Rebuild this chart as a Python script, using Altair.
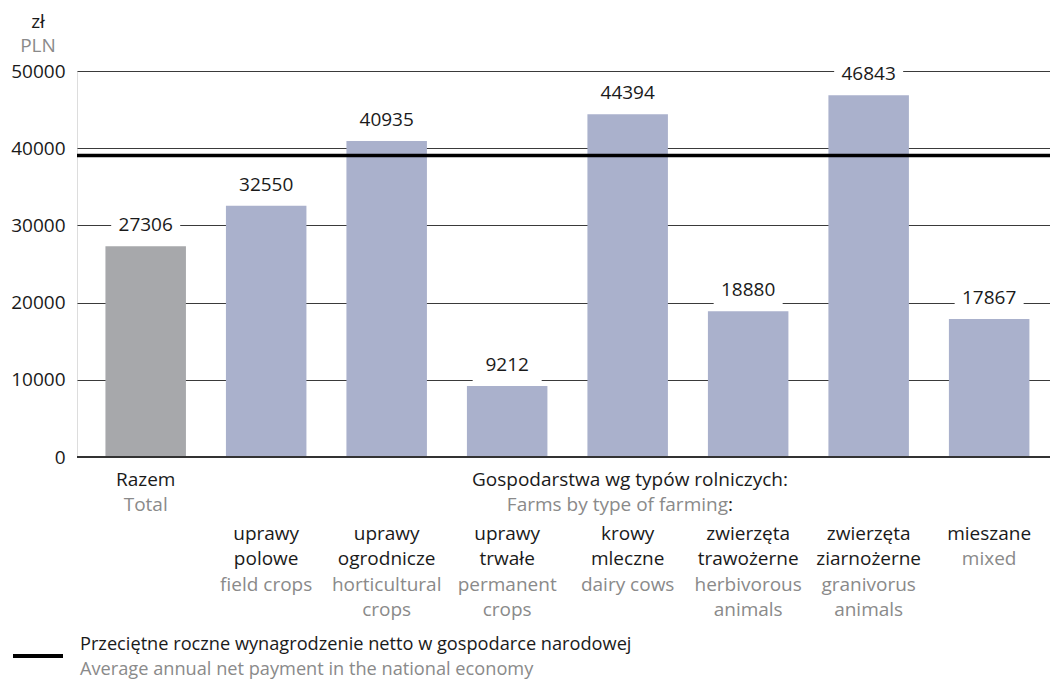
import altair as alt
import pandas as pd

# ---------------- data ----------------
categories = ["razem", "polowe", "ogrodnicze", "trwale", "krowy",
              "trawozerne", "ziarnozerne", "mieszane"]
values = [27306, 32550, 40935, 9212, 44394, 18880, 46843, 17867]
bar_colors = ["#a7a8ab", "#aab1cc", "#aab1cc", "#aab1cc", "#aab1cc",
              "#aab1cc", "#aab1cc", "#aab1cc"]
labels_pl = [["Razem"], ["uprawy", "polowe"], ["uprawy", "ogrodnicze"],
             ["uprawy", "trwałe"], ["krowy", "mleczne"],
             ["zwierzęta", "trawożerne"], ["zwierzęta", "ziarnożerne"],
             ["mieszane"]]
labels_en = [["Total"], ["field crops"], ["horticultural", "crops"],
             ["permanent", "crops"], ["dairy cows"],
             ["herbivorous", "animals"], ["granivorus", "animals"],
             ["mixed"]]
national_avg = [39040]
y_ticks = [0, 10000, 20000, 30000, 40000, 50000]

unit_pl, unit_en = "zł", "PLN"
group_pl = "Gospodarstwa wg typów rolniczych:"
group_en = "Farms by type of farming"
legend_pl = "Przeciętne roczne wynagrodzenie netto w gospodarce narodowej"
legend_en = "Average annual net payment in the national economy"

# ---------------- tables ----------------
df = pd.DataFrame({"cat": categories, "value": values, "color": bar_colors})

BLACK, GRAY = "#1a1a1a", "#8a8a8a"
rows = []
for i, c in enumerate(categories):
    start = 0 if i == 0 else 2
    k = 0
    for t in labels_pl[i]:
        rows.append({"cat": c, "text": t, "row": start + k, "color": BLACK})
        k += 1
    for t in labels_en[i]:
        rows.append({"cat": c, "text": t, "row": start + k, "color": GRAY})
        k += 1
lines_df = pd.DataFrame(rows)

FONT = "Open Sans"
FS = 19
W, H = 973, 386

X = alt.X("cat:N", sort=categories, axis=None,
          scale=alt.Scale(domain=categories, paddingInner=0.332,
                          paddingOuter=0.2035, align=0.58))
Y = alt.Y("value:Q",
          scale=alt.Scale(domain=[0, 50000], nice=False),
          axis=alt.Axis(values=y_ticks, title=None, domain=False, ticks=False,
                        labelPadding=12, labelFontSize=FS, labelFont=FONT,
                        labelColor=BLACK, gridColor="#3a3a3a", gridWidth=1,
                        format="d"))

base = alt.Chart(df)

boxes = base.mark_bar(color="white", width=69, yOffset=-38).encode(
    x=X, y=Y, y2=alt.Y2("value:Q"))
bars = base.mark_bar(width=80.5).encode(
    x=X, y=Y, color=alt.Color("color:N", scale=None))
vals = base.mark_text(dy=-21, fontSize=FS, font=FONT, color=BLACK,
                      baseline="middle").encode(
    x=X, y=Y, text=alt.Text("value:Q", format="d"))

avg_rule = alt.Chart(pd.DataFrame({"value": national_avg})).mark_rule(
    color="black", strokeWidth=3.5).encode(y=alt.Y("value:Q"))
zero_rule = alt.Chart(pd.DataFrame({"value": [0]})).mark_rule(
    color="#333333", strokeWidth=2).encode(y=alt.Y("value:Q"))

row_y = [409, 434, 463, 488, 514, 539]
cat_layers = []
for r, yy in enumerate(row_y):
    cat_layers.append(
        alt.Chart(lines_df).transform_filter(alt.datum.row == r)
        .mark_text(font=FONT, fontSize=FS, baseline="middle", align="center")
        .encode(x=X, y=alt.value(yy), text="text:N",
                color=alt.Color("color:N", scale=None)))


def label(txt, x, y, color, align="center", size=FS):
    return alt.Chart(pd.DataFrame({"t": [txt]})).mark_text(
        font=FONT, fontSize=size, baseline="middle", align=align,
        color=color).encode(x=alt.value(x), y=alt.value(y), text="t:N")


annotations = [
    label(unit_pl, -39, -49, BLACK),
    label(unit_en, -39, -25, GRAY),
    label(group_pl, 553, 409, BLACK),
    label(group_en, 651, 434, GRAY, align="right"),
    label(":", 651, 434, BLACK, align="left"),
    label(legend_pl, 3, 574, BLACK, align="left", size=18.2),
    label(legend_en, 3, 599, GRAY, align="left", size=18.2),
]

legend_line = alt.Chart(pd.DataFrame({"v": national_avg})).mark_rule(
    color="black", strokeWidth=4).encode(
    x=alt.value(-64), x2=alt.value(-14), y=alt.value(585))

chart = alt.layer(
    boxes, bars, vals, avg_rule, zero_rule, *cat_layers, *annotations,
    legend_line
).properties(
    width=W, height=H,
    autosize=alt.AutoSizeParams(type="none"),
    padding={"left": 69, "top": 63, "right": 0, "bottom": 224},
).configure_view(stroke=None).configure(background="white")

chart.save("out.html", embed_options={"renderer": "svg", "actions": False})
